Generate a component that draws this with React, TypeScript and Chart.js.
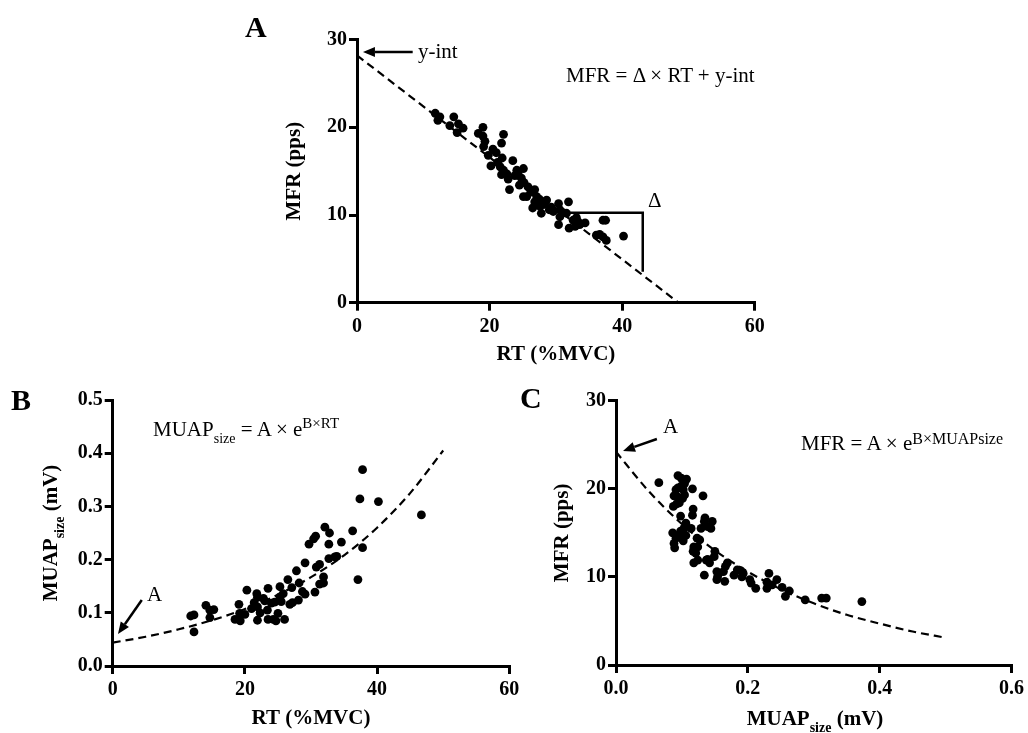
import React, { useEffect, useRef } from 'react';
import { Chart, registerables } from 'chart.js';
Chart.register(...registerables);

const SERIF = "'Liberation Serif', 'Times New Roman', serif";
const TICK_SIZE = 20;
const TITLE_SIZE = 21;

// ---------- Panel A: MFR vs RT ----------
const aRT = [11.8, 12.2, 12.5, 14.0, 14.6, 15.3, 15.1, 16.0, 18.3, 19.0, 19.0, 19.3, 19.1, 19.8, 20.2, 20.5, 21.0, 22.1, 21.8, 21.9, 21.6, 21.8, 22.1, 21.2, 22.6, 22.8, 23.0, 23.5, 23.8, 24.1, 24.3, 25.1, 24.8, 24.5, 25.2, 25.8, 25.1, 25.6, 26.2, 26.8, 27.1, 26.8, 26.5, 27.5, 27.6, 27.8, 28.2, 28.6, 29.0, 29.3, 29.6, 30.4, 30.6, 30.6, 31.0, 31.9, 31.6, 30.4, 32.0, 32.6, 33.1, 33.4, 33.6, 34.4, 32.9, 36.1, 36.6, 37.1, 37.5, 37.1, 37.6, 40.2];
const aMFR = [21.6, 20.8, 21.2, 20.2, 21.2, 20.4, 19.4, 19.9, 19.3, 20.0, 19.0, 18.4, 17.8, 16.8, 15.6, 17.5, 17.1, 19.2, 18.2, 16.5, 15.5, 14.6, 15.1, 16.0, 14.7, 14.1, 12.9, 16.2, 14.5, 15.1, 14.8, 15.3, 14.2, 13.4, 13.7, 13.2, 12.1, 12.1, 12.6, 12.9, 12.1, 11.5, 10.8, 11.8, 11.0, 10.2, 11.2, 11.7, 10.6, 10.9, 10.4, 11.3, 10.6, 9.8, 10.3, 11.5, 10.2, 8.9, 8.5, 9.4, 9.7, 9.2, 8.9, 9.1, 8.7, 7.7, 7.8, 9.4, 9.4, 7.5, 7.1, 7.6];
const aFitX = [0, 48.5];
const aFitY = [28.2, 0];
const aTicksX = [0, 20, 40, 60];
const aTicksY = [0, 10, 20, 30];

// ---------- Panel B: MUAPsize vs RT ----------
const bRT = [11.8, 12.3, 12.3, 14.1, 14.7, 15.3, 14.7, 18.5, 19.1, 19.2, 19.3, 20.0, 20.3, 21.0, 21.4, 21.8, 21.9, 21.9, 21.9, 22.3, 22.8, 23.0, 23.4, 23.5, 23.5, 24.0, 24.3, 24.5, 24.7, 25.0, 25.3, 25.3, 25.5, 25.8, 26.0, 26.5, 26.8, 27.1, 27.2, 27.8, 28.1, 28.2, 28.7, 29.1, 29.1, 29.7, 30.4, 30.7, 30.6, 30.8, 31.3, 31.3, 31.9, 31.9, 32.1, 32.8, 32.7, 32.7, 33.6, 33.9, 34.6, 36.3, 37.1, 37.4, 37.8, 37.8, 40.2, 46.7];
const bMUAP = [0.094, 0.096, 0.064, 0.114, 0.105, 0.106, 0.091, 0.0875, 0.116, 0.099, 0.085, 0.097, 0.1425, 0.108, 0.119, 0.136, 0.129, 0.111, 0.086, 0.1, 0.127, 0.1225, 0.105, 0.146, 0.0875, 0.118, 0.0875, 0.12, 0.085, 0.099, 0.149, 0.13, 0.121, 0.136, 0.0875, 0.1625, 0.116, 0.1475, 0.119, 0.179, 0.124, 0.156, 0.14, 0.194, 0.135, 0.229, 0.239, 0.244, 0.139, 0.186, 0.191, 0.154, 0.1675, 0.156, 0.261, 0.25, 0.229, 0.202, 0.205, 0.206, 0.233, 0.254, 0.1625, 0.314, 0.369, 0.2225, 0.309, 0.284];
const bFitX = [0, 5, 10, 15, 20, 25, 30, 35, 40, 45, 50];
const bFitY = [0.044, 0.055, 0.069, 0.086, 0.107, 0.134, 0.167, 0.208, 0.26, 0.325, 0.405];
const bTicksX = [0, 20, 40, 60];
const bTicksY = [0, 0.1, 0.2, 0.3, 0.4, 0.5];
const bTickLabelsY = ['0.0', '0.1', '0.2', '0.3', '0.4', '0.5'];

// ---------- Panel C: MFR vs MUAPsize ----------
const cMUAP = [0.065, 0.094, 0.099, 0.107, 0.104, 0.091, 0.094, 0.099, 0.102, 0.116, 0.088, 0.093, 0.104, 0.101, 0.087, 0.092, 0.096, 0.132, 0.117, 0.116, 0.098, 0.106, 0.135, 0.134, 0.146, 0.139, 0.144, 0.129, 0.114, 0.103, 0.098, 0.086, 0.096, 0.106, 0.091, 0.088, 0.089, 0.102, 0.123, 0.127, 0.118, 0.124, 0.117, 0.121, 0.124, 0.118, 0.139, 0.137, 0.142, 0.15, 0.149, 0.134, 0.153, 0.156, 0.154, 0.163, 0.166, 0.169, 0.165, 0.153, 0.179, 0.184, 0.189, 0.193, 0.191, 0.203, 0.205, 0.212, 0.229, 0.232, 0.229, 0.237, 0.244, 0.252, 0.263, 0.257, 0.287, 0.312, 0.319, 0.373];
const cMFR = [20.7, 21.5, 21.2, 21.1, 20.6, 19.9, 20.1, 20.3, 19.9, 20.0, 19.2, 19.1, 19.3, 18.9, 18.0, 18.3, 18.4, 19.2, 17.7, 17.0, 16.9, 16.1, 16.7, 16.3, 16.3, 15.7, 15.5, 15.5, 15.5, 15.5, 15.2, 15.0, 14.8, 14.7, 14.4, 13.8, 13.3, 14.1, 14.4, 14.2, 13.4, 13.4, 12.9, 12.7, 11.9, 11.6, 12.0, 11.9, 11.6, 12.9, 12.3, 10.2, 10.6, 10.4, 10.0, 10.6, 11.2, 11.6, 9.5, 9.7, 10.2, 10.8, 10.7, 10.4, 10.0, 9.7, 9.3, 8.7, 9.4, 10.4, 8.7, 9.1, 9.7, 8.8, 8.4, 7.8, 7.4, 7.6, 7.6, 7.2];
const cFitX = [0, 0.05, 0.1, 0.15, 0.2, 0.25, 0.3, 0.35, 0.4, 0.45, 0.5];
const cFitY = [24.2, 19.7, 16.0, 13.0, 10.6, 8.6, 7.0, 5.7, 4.7, 3.8, 3.1];
const cTicksX = [0, 0.2, 0.4, 0.6];
const cTickLabelsX = ['0.0', '0.2', '0.4', '0.6'];
const cTicksY = [0, 10, 20, 30];

// annotation anchors (data units)
const aArrowFrom = [8.4, 28.6];
const aArrowTo = [0.9, 28.6];
const aDeltaX = [32, 43.1];
const aDeltaY = [10.26, 3.53];
const bArrowFrom = [4.4, 0.124];
const bArrowTo = [0.8, 0.06];
const cArrowFrom = [0.062, 25.65];
const cArrowTo = [0.0106, 24.3];

function drawArrow(ctx: CanvasRenderingContext2D, x1: number, y1: number, x2: number, y2: number) {
  const ang = Math.atan2(y2 - y1, x2 - x1);
  const len = 12, hw = 5;
  const bx = x2 - len * Math.cos(ang), by = y2 - len * Math.sin(ang);
  ctx.strokeStyle = '#000';
  ctx.fillStyle = '#000';
  ctx.lineWidth = 2.5;
  ctx.beginPath();
  ctx.moveTo(x1, y1);
  ctx.lineTo(bx, by);
  ctx.stroke();
  ctx.beginPath();
  ctx.moveTo(x2, y2);
  ctx.lineTo(bx + hw * Math.sin(ang), by - hw * Math.cos(ang));
  ctx.lineTo(bx - hw * Math.sin(ang), by + hw * Math.cos(ang));
  ctx.closePath();
  ctx.fill();
}

type Spec = {
  left: number; top: number; width: number; height: number;
  area: { l: number; t: number; r: number; b: number };
  xMin: number; xMax: number; yMin: number; yMax: number;
  xTicks: number[]; yTicks: number[];
  xLabels?: string[]; yLabels?: string[];
  xTitle?: string; yTitle?: string;
  xTitleY?: number; yTitleX?: number;
  px: number[]; py: number[];
  fx: number[]; fy: number[]; smooth: boolean;
  annotate: (ctx: CanvasRenderingContext2D, x: any, y: any) => void;
};

function buildChart(canvas: HTMLCanvasElement, s: Spec) {
  const half = (TITLE_SIZE * 1.2) / 2;
  const L = s.area.l - s.left, R = s.area.r - s.left, T = s.area.t - s.top, B = s.area.b - s.top;
  const padL = s.yTitle ? s.yTitleX! - s.left - half : 0;
  const xBottom = s.xTitle ? s.xTitleY! - s.top + half : s.height;
  const padB = s.height - xBottom;
  const yWidth = L - padL;
  const xHeight = xBottom - B;
  const tickFont = { family: SERIF, weight: 'bold' as const, size: TICK_SIZE };
  const titleFont = { family: SERIF, weight: 'bold' as const, size: TITLE_SIZE, lineHeight: 1.2 };
  const grid = {
    display: true, drawOnChartArea: false, drawTicks: true, tickLength: 8,
    tickWidth: 3, tickColor: '#000', color: '#000', lineWidth: 3,
  };
  return new Chart(canvas, {
    type: 'scatter',
    data: {
      datasets: [
        {
          data: s.px.map((v, i) => ({ x: v, y: s.py[i] })),
          pointRadius: 4.4, pointBackgroundColor: '#000', pointBorderWidth: 0,
          showLine: false,
        },
        {
          data: s.fx.map((v, i) => ({ x: v, y: s.fy[i] })),
          showLine: true, pointRadius: 0, borderColor: '#000', borderWidth: 2.2,
          borderDash: [8, 5], cubicInterpolationMode: s.smooth ? 'monotone' : 'default',
          fill: false,
        } as any,
      ],
    },
    options: {
      animation: false, responsive: false, maintainAspectRatio: false,
      events: [],
      layout: { padding: { left: padL, top: T, right: s.width - R, bottom: padB } },
      plugins: { legend: { display: false }, tooltip: { enabled: false } },
      scales: {
        x: {
          type: 'linear', min: s.xMin, max: s.xMax,
          afterBuildTicks: (sc: any) => { sc.ticks = s.xTicks.map((v) => ({ value: v })); },
          afterFit: (sc: any) => { sc.height = xHeight; },
          ticks: {
            font: tickFont, color: '#000', padding: 4, maxRotation: 0, autoSkip: false,
            callback: (v: any, i: number) => (s.xLabels ? s.xLabels[i] : String(v)),
          },
          grid, border: { display: true, color: '#000', width: 3 },
          title: { display: !!s.xTitle, text: s.xTitle || '', font: titleFont, color: '#000', padding: 0 },
        },
        y: {
          type: 'linear', min: s.yMin, max: s.yMax,
          afterBuildTicks: (sc: any) => { sc.ticks = s.yTicks.map((v) => ({ value: v })); },
          afterFit: (sc: any) => { sc.width = yWidth; },
          ticks: {
            font: tickFont, color: '#000', padding: 2, autoSkip: false,
            callback: (v: any, i: number) => (s.yLabels ? s.yLabels[i] : String(v)),
          },
          grid, border: { display: true, color: '#000', width: 3 },
          title: { display: !!s.yTitle, text: s.yTitle || '', font: titleFont, color: '#000', padding: 0 },
        },
      },
    } as any,
    plugins: [
      {
        id: 'annot',
        afterDatasetsDraw(chart: any) {
          const ctx = chart.ctx;
          ctx.save();
          s.annotate(ctx, chart.scales.x, chart.scales.y);
          ctx.restore();
        },
      },
    ],
  });
}

const specA: Spec = {
  left: 250, top: 0, width: 530, height: 380,
  area: { l: 357, t: 39.6, r: 754.8, b: 302.7 },
  xMin: 0, xMax: 60, yMin: 0, yMax: 30,
  xTicks: aTicksX, yTicks: aTicksY,
  xTitle: 'RT (%MVC)', yTitle: 'MFR (pps)', xTitleY: 355, yTitleX: 295,
  px: aRT, py: aMFR, fx: aFitX, fy: aFitY, smooth: false,
  annotate: (ctx, x, y) => {
    drawArrow(ctx, x.getPixelForValue(aArrowFrom[0]), y.getPixelForValue(aArrowFrom[1]),
      x.getPixelForValue(aArrowTo[0]), y.getPixelForValue(aArrowTo[1]));
    ctx.lineWidth = 2.5;
    ctx.strokeStyle = '#000';
    ctx.beginPath();
    ctx.moveTo(x.getPixelForValue(aDeltaX[0]), y.getPixelForValue(aDeltaY[0]));
    ctx.lineTo(x.getPixelForValue(aDeltaX[1]), y.getPixelForValue(aDeltaY[0]));
    ctx.lineTo(x.getPixelForValue(aDeltaX[1]), y.getPixelForValue(aDeltaY[1]));
    ctx.stroke();
  },
};

const specB: Spec = {
  left: 0, top: 380, width: 530, height: 353,
  area: { l: 112.7, t: 400, r: 509.3, b: 666 },
  xMin: 0, xMax: 60, yMin: 0, yMax: 0.5,
  xTicks: bTicksX, yTicks: bTicksY, yLabels: bTickLabelsY,
  xTitle: 'RT (%MVC)', xTitleY: 719,
  px: bRT, py: bMUAP, fx: bFitX, fy: bFitY, smooth: true,
  annotate: (ctx, x, y) => {
    drawArrow(ctx, x.getPixelForValue(bArrowFrom[0]), y.getPixelForValue(bArrowFrom[1]),
      x.getPixelForValue(bArrowTo[0]), y.getPixelForValue(bArrowTo[1]));
  },
};

const specC: Spec = {
  left: 530, top: 380, width: 498, height: 353,
  area: { l: 616, t: 400.7, r: 1013.3, b: 665 },
  xMin: 0, xMax: 0.6, yMin: 0, yMax: 30,
  xTicks: cTicksX, yTicks: cTicksY, xLabels: cTickLabelsX,
  yTitle: 'MFR (pps)', yTitleX: 563,
  px: cMUAP, py: cMFR, fx: cFitX, fy: cFitY, smooth: true,
  annotate: (ctx, x, y) => {
    drawArrow(ctx, x.getPixelForValue(cArrowFrom[0]), y.getPixelForValue(cArrowFrom[1]),
      x.getPixelForValue(cArrowTo[0]), y.getPixelForValue(cArrowTo[1]));
  },
};

function Txt(props: { x: number; base: number; size: number; bold?: boolean; children: any }) {
  const { x, base, size, bold, children } = props;
  return (
    <div
      style={{
        position: 'absolute', left: x, top: base - 0.8375 * size, fontSize: size,
        lineHeight: `${size}px`, fontWeight: bold ? 'bold' : 'normal', whiteSpace: 'nowrap',
        fontFamily: SERIF, color: '#000',
      }}
    >
      {children}
    </div>
  );
}

const sub = (size: number, dy: number, text: string) => (
  <span style={{ fontSize: size, position: 'relative', top: dy }}>{text}</span>
);

export default function App() {
  const refA = useRef<HTMLCanvasElement>(null);
  const refB = useRef<HTMLCanvasElement>(null);
  const refC = useRef<HTMLCanvasElement>(null);

  useEffect(() => {
    const charts = [
      buildChart(refA.current!, specA),
      buildChart(refB.current!, specB),
      buildChart(refC.current!, specC),
    ];
    return () => charts.forEach((c) => c.destroy());
  }, []);

  const canvasStyle = (s: Spec) => ({
    position: 'absolute' as const, left: s.left, top: s.top, width: s.width, height: s.height,
  });

  return (
    <div style={{ position: 'absolute', left: 0, top: 0, width: 1028, height: 733, background: '#fff', fontFamily: SERIF }}>
      <canvas ref={refA} width={specA.width} height={specA.height} style={canvasStyle(specA)} />
      <canvas ref={refB} width={specB.width} height={specB.height} style={canvasStyle(specB)} />
      <canvas ref={refC} width={specC.width} height={specC.height} style={canvasStyle(specC)} />

      <Txt x={245} base={37} size={30} bold>A</Txt>
      <Txt x={11} base={410} size={30} bold>B</Txt>
      <Txt x={520} base={408} size={30} bold>C</Txt>

      <Txt x={418} base={58.5} size={21}>y-int</Txt>
      <Txt x={566} base={83} size={21}>MFR = Δ × RT + y-int</Txt>
      <Txt x={648} base={208} size={21}>Δ</Txt>

      <Txt x={153} base={437} size={21}>
        MUAP{sub(14, 7, 'size')} = A × e{sub(15, -8, 'B×RT')}
      </Txt>
      <Txt x={147} base={602} size={21}>A</Txt>

      <Txt x={801} base={451} size={21}>
        MFR = A × e{sub(16, -6, 'B×MUAPsize')}
      </Txt>
      <Txt x={663} base={434} size={21}>A</Txt>

      <div
        style={{
          position: 'absolute', left: 51, top: 533, transform: 'translate(-50%, -50%) rotate(-90deg)',
          fontSize: TITLE_SIZE, lineHeight: `${TITLE_SIZE}px`, fontWeight: 'bold', whiteSpace: 'nowrap',
          fontFamily: SERIF, color: '#000',
        }}
      >
        MUAP{sub(14, 7, 'size')} (mV)
      </div>
      <div
        style={{
          position: 'absolute', left: 815, top: 719, transform: 'translate(-50%, -50%)',
          fontSize: TITLE_SIZE, lineHeight: `${TITLE_SIZE}px`, fontWeight: 'bold', whiteSpace: 'nowrap',
          fontFamily: SERIF, color: '#000',
        }}
      >
        MUAP{sub(14, 7, 'size')} (mV)
      </div>
    </div>
  );
}
